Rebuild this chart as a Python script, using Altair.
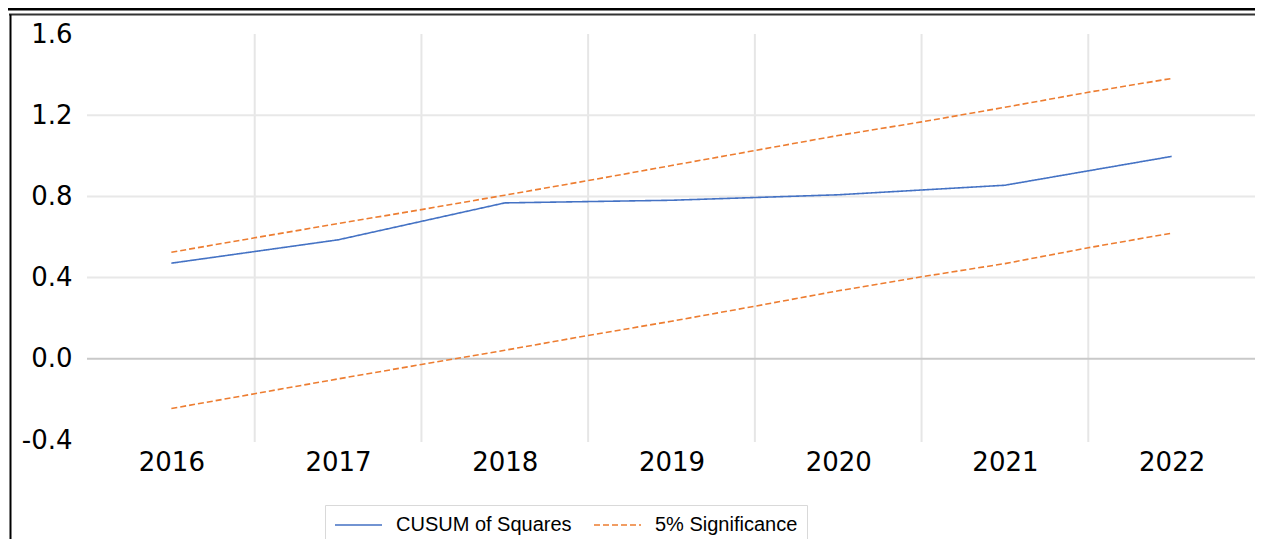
import altair as alt
import pandas as pd

years = [2016, 2017, 2018, 2019, 2020, 2021, 2022]
cusum = [0.471, 0.586, 0.768, 0.781, 0.808, 0.855, 0.997]

half_years = [2016, 2016.5, 2017, 2017.5, 2018, 2018.5, 2019, 2019.5,
              2020, 2020.5, 2021, 2021.5, 2022]
upper = [0.525, 0.596, 0.666, 0.735, 0.806, 0.878, 0.952, 1.026,
         1.100, 1.167, 1.239, 1.313, 1.381]
lower = [-0.245, -0.172, -0.099, -0.028, 0.042, 0.115, 0.185, 0.259,
         0.335, 0.404, 0.469, 0.547, 0.619]

series_names = ["CUSUM of Squares", "5% Significance"]
colors = ["#4472C4", "#ED7D31"]

y_ticks = [-0.4, 0.0, 0.4, 0.8, 1.2, 1.6]
grid_light = [0.4, 0.8, 1.2]
boundaries = [y + 0.5 for y in years[:-1]]

rows = []
for x, v in zip(years, cusum):
    rows.append({"year": x, "value": v, "series": series_names[0], "line": "cusum"})
for x, v in zip(half_years, upper):
    rows.append({"year": x, "value": v, "series": series_names[1], "line": "upper"})
for x, v in zip(half_years, lower):
    rows.append({"year": x, "value": v, "series": series_names[1], "line": "lower"})
df = pd.DataFrame(rows)

W, H = 1167, 406

xscale = alt.Scale(domain=[2015.5, 2022.5], nice=False, zero=False)
yscale = alt.Scale(domain=[-0.4, 1.6], nice=False, zero=False)

x_axis = alt.Axis(values=years, format="d", title=None, grid=False,
                  domain=False, ticks=False, labelFontSize=26,
                  labelFont="DejaVu Sans", labelColor="#000000",
                  labelPadding=9, labelFlush=False, labelOverlap=False)
y_axis = alt.Axis(values=y_ticks, title=None, grid=False, domain=False,
                  ticks=False, labelFontSize=26, labelFont="DejaVu Sans",
                  labelColor="#000000", labelPadding=16, labelFlush=False,
                  labelOverlap=False,
                  labelExpr="(datum.value < 0 ? '-' : '') + format(abs(datum.value), '.1f')")

lines = alt.Chart(df).mark_line(strokeWidth=1.6).encode(
    x=alt.X("year:Q", scale=xscale, axis=x_axis),
    y=alt.Y("value:Q", scale=yscale, axis=y_axis),
    color=alt.Color("series:N", scale=alt.Scale(domain=series_names, range=colors),
                    title=None),
    strokeDash=alt.StrokeDash("series:N",
                              scale=alt.Scale(domain=series_names, range=[[1, 0], [6, 3]]),
                              title=None),
    detail="line:N",
)

# vertical category boundary gridlines
vgrid = alt.Chart(pd.DataFrame({"b": boundaries})).mark_rule(
    color="#e6e6e6", strokeWidth=2
).encode(
    x=alt.X("b:Q", scale=xscale, axis=x_axis),
    y=alt.value(0), y2=alt.value(H + 2),
)

hgrid = alt.Chart(pd.DataFrame({"g": grid_light})).mark_rule(
    color="#e8e8e8", strokeWidth=2
).encode(
    y=alt.Y("g:Q", scale=yscale, axis=y_axis),
    x=alt.value(-1), x2=alt.value(W + 3),
)

zero = alt.Chart(pd.DataFrame({"g": [0.0]})).mark_rule(
    color="#c9c9c9", strokeWidth=2
).encode(
    y=alt.Y("g:Q", scale=yscale, axis=y_axis),
    x=alt.value(-1), x2=alt.value(W + 3),
)

blank = alt.Data(values=[{}])
frame_top = alt.Chart(blank).mark_rule(color="#000000", strokeWidth=3).encode(
    x=alt.value(-80), x2=alt.value(W), y=alt.value(-25))
frame_top2 = alt.Chart(blank).mark_rule(color="#333333", strokeWidth=2).encode(
    x=alt.value(-79), x2=alt.value(W + 10), y=alt.value(-19.5))
frame_left = alt.Chart(blank).mark_rule(color="#000000", strokeWidth=2).encode(
    x=alt.value(-77.5), y=alt.value(-19.5), y2=alt.value(520))

chart = alt.layer(
    vgrid, hgrid, zero, lines, frame_top, frame_top2, frame_left
).resolve_scale(x="shared", y="shared").properties(
    width=W, height=H,
    autosize=alt.AutoSizeParams(type="none"),
    padding={"left": 80, "top": 26, "right": 0, "bottom": 99},
    background="#ffffff",
).configure_view(stroke=None).configure_legend(
    orient="none", legendX=237, legendY=471, direction="horizontal",
    symbolType="M-1,0L3.7,0", symbolSize=400, symbolStrokeWidth=1.6,
    labelFontSize=20, labelFont="Liberation Sans", labelColor="#000000",
    labelOffset=40, columnPadding=18, padding=9, strokeColor="#d9d9d9",
    labelLimit=0,
)

chart.save("out.html", embed_options={"renderer": "svg", "actions": False})
